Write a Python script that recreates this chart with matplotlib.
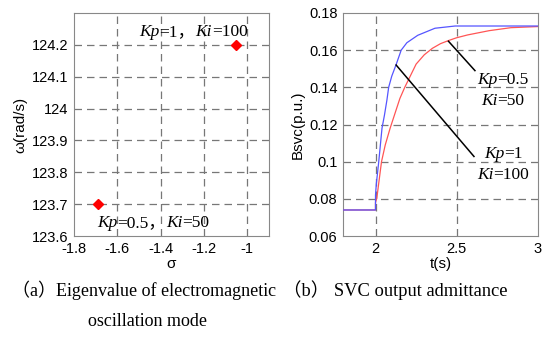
import matplotlib
matplotlib.use("Agg")
import matplotlib.pyplot as plt

# ---- data ----
sigma = [-1.05, -1.69]
omega = [124.2, 123.7]

t_blue = [1.8, 2.0, 2.0, 2.005, 2.02, 2.04, 2.055, 2.07, 2.081, 2.1, 2.126, 2.158, 2.193, 2.26, 2.366, 2.49, 3.0]
b_blue = [0.074, 0.074, 0.082, 0.088, 0.100, 0.118, 0.125, 0.133, 0.140, 0.146, 0.152, 0.160, 0.164, 0.168, 0.1718, 0.173, 0.173]
t_red = [1.8, 2.0, 2.0, 2.008, 2.037, 2.06, 2.09, 2.12, 2.15, 2.18, 2.25, 2.3, 2.35, 2.4, 2.45, 2.5, 2.567, 2.70, 2.833, 3.0]
b_red = [0.074, 0.074, 0.078, 0.0803, 0.100, 0.109, 0.118, 0.126, 0.134, 0.140, 0.1525, 0.1575, 0.161, 0.1635, 0.1652, 0.1667, 0.1682, 0.1705, 0.1721, 0.1727]

serif = ['Liberation Serif', 'Noto Sans CJK SC']
sans = 'Liberation Sans'
plt.rcParams['font.family'] = sans

fig = plt.figure(figsize=(5.5, 3.38), dpi=100)
W, H = 550, 338

def add_ax(x0, x1, y0, y1):
    return fig.add_axes([x0 / W, 1 - y1 / H, (x1 - x0) / W, (y1 - y0) / H])

grid_kw = dict(color='#777777', linestyle=(0, (6, 4)), linewidth=0.9)
spine_col = '#888888'

def style(ax):
    for s in ax.spines.values():
        s.set_color(spine_col)
        s.set_linewidth(0.8)
    ax.tick_params(direction='in', length=0, labelsize=10.5, pad=4, colors='black')

ANN_FS = 12.5

def rich(xpx, ypx_center, pieces, fs=ANN_FS):
    """Draw a line of text pieces (string, italic?) starting at pixel x, centred at pixel y."""
    bottom = ypx_center + 0.58 * fs * 100 / 72
    last = None
    for s, it in pieces:
        kw = dict(fontsize=fs, family=serif, style='italic' if it else 'normal',
                  ha='left', va='bottom', zorder=5)
        if last is None:
            last = fig.text(xpx / W, 1 - bottom / H, s, **kw)
        else:
            last = plt.annotate(s, xy=(1, 0), xycoords=last, xytext=(0, 0),
                                textcoords='offset points', annotation_clip=False, **kw)

# ---- (a) ----
ax1 = add_ax(74, 269, 13, 236)
ax1.set_xlim(-1.8, -0.9)
ax1.set_ylim(123.6, 124.3)
ax1.set_xticks([-1.8, -1.6, -1.4, -1.2, -1.0])
ax1.set_xticklabels(['-1.8', '-1.6', '-1.4', '-1.2', '-1'])
ax1.set_yticks([123.6, 123.7, 123.8, 123.9, 124.0, 124.1, 124.2])
ax1.set_yticklabels(['123.6', '123.7', '123.8', '123.9', '124', '124.1', '124.2'])
for v in [-1.6, -1.4, -1.2, -1.0]:
    ax1.axvline(v, **grid_kw, zorder=1)
for v in [123.7, 123.8, 123.9, 124.0, 124.1, 124.2]:
    ax1.axhline(v, **grid_kw, zorder=1)
ax1.plot(sigma, omega, linestyle='none', marker='D', color='red', markersize=5, zorder=3)
style(ax1)
ax1.set_xlabel('σ', fontsize=11, labelpad=1)
ax1.set_ylabel('ω(rad/s)', fontsize=11, labelpad=3)

# ---- (b) ----
ax2 = add_ax(343, 538, 13, 236)
ax2.set_xlim(1.8, 3.0)
ax2.set_ylim(0.06, 0.18)
ax2.set_xticks([2, 2.5, 3])
ax2.set_xticklabels(['2', '2.5', '3'])
ax2.set_yticks([0.06, 0.08, 0.10, 0.12, 0.14, 0.16, 0.18])
ax2.set_yticklabels(['0.06', '0.08', '0.1', '0.12', '0.14', '0.16', '0.18'])
for v in [2.0, 2.5]:
    ax2.axvline(v, **grid_kw, zorder=1)
for v in [0.08, 0.10, 0.12, 0.14, 0.16]:
    ax2.axhline(v, **grid_kw, zorder=1)
ax2.plot(t_red, b_red, color='#ff5555', linewidth=0.9, zorder=3)
ax2.plot(t_blue, b_blue, color='#5555ff', linewidth=0.9, zorder=3)
ax2.plot([2.127, 2.606], [0.152, 0.1028], color='black', linewidth=1.1, zorder=4)
ax2.plot([2.449, 2.612], [0.1648, 0.149], color='black', linewidth=1.1, zorder=4)
style(ax2)
ax2.set_xlabel('t(s)', fontsize=11, labelpad=1)
ax2.set_ylabel('Bsvc(p.u.)', fontsize=11, labelpad=3)

# ---- annotations (pixel positions) ----
rich(139, 30, [('Kp', True), ('=1，', False), ('Ki', True), ('=100', False)])
rich(97, 221, [('Kp', True), ('=0.5，', False), ('Ki', True), ('=50', False)])
rich(477, 78, [('Kp', True), ('=0.5', False)])
rich(481, 99, [('Ki', True), ('=50', False)])
rich(484, 152, [('Kp', True), ('=1', False)])
rich(477, 173, [('Ki', True), ('=100', False)])

# ---- captions ----
fig.text(12 / W, 1 - 290 / H, '（a）Eigenvalue of electromagnetic', family=serif, fontsize=13, ha='left', va='center')
fig.text(148 / W, 1 - 321 / H, 'oscillation mode', family=serif, fontsize=13, ha='center', va='center')
fig.text(283 / W, 1 - 290 / H, '（b） SVC output admittance', family=serif, fontsize=13.3, ha='left', va='center')

fig.savefig('out.png', dpi=100)
